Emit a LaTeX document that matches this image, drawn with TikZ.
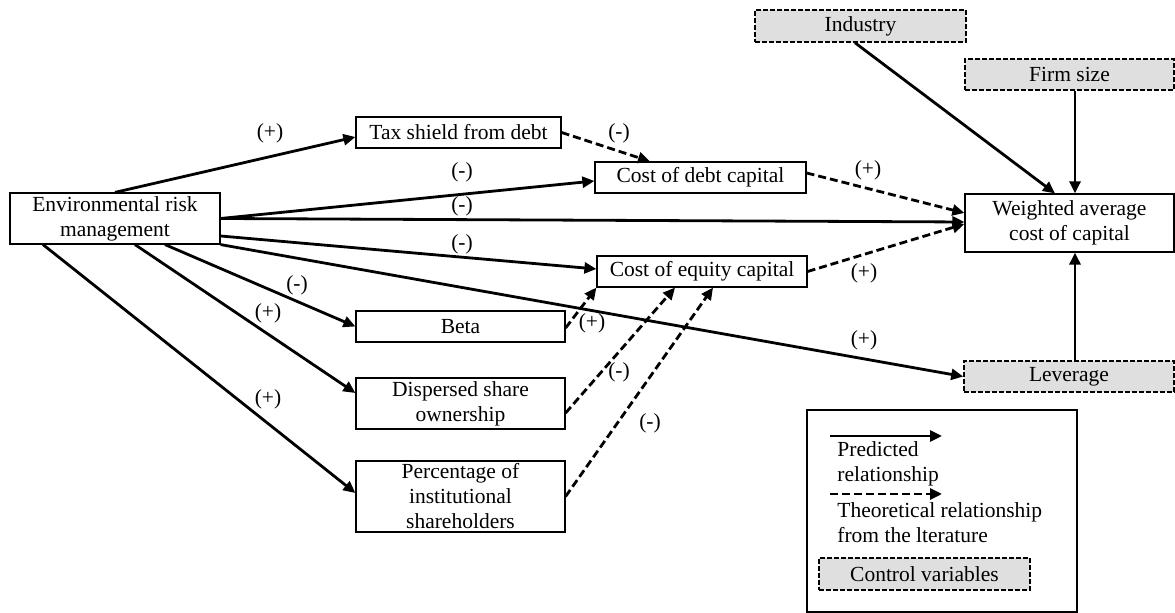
\documentclass[tikz,border=0pt]{standalone}
\usepackage{fontspec}
\newfontfamily\rmf{Liberation Serif}
\usetikzlibrary{arrows.meta}
\begin{document}
\begin{tikzpicture}[x=0.5pt,y=-0.5pt,
  every node/.style={font=\rmf\fontsize{10.75}{12.5}\selectfont, inner sep=0pt},
  box/.style={draw, line width=0.6pt, align=center, minimum height=15.5pt},
  ctl/.style={draw, line width=0.8pt, dash pattern=on 2.3pt off 1.2pt, fill=gray!25, minimum height=15.5pt, align=center},
  pred/.style={-{Triangle[length=6pt,width=5.5pt]}, line width=1.4pt},
  theo/.style={pred, dash pattern=on 4pt off 2pt},
  txt/.style={anchor=base west}
]
\useasboundingbox (0,0) rectangle (1175,613);

% nodes
\node[box, minimum width=105pt, minimum height=25.5pt] (erm) at (115,218.5) {Environmental risk\\management};
\node[box, minimum width=102.5pt] (tax) at (458.5,132.5) {Tax shield from debt};
\node[box, minimum width=105.5pt] (debt) at (700.5,177.5) {Cost of debt capital};
\node[box, minimum width=105pt] (equity) at (702,271.5) {Cost of equity capital};
\node[box, minimum width=104.5pt] (beta) at (460.5,326.5) {Beta};
\node[box, minimum width=104.5pt, minimum height=25.5pt] (disp) at (460.5,403.5) {Dispersed share\\ownership};
\node[box, minimum width=104.5pt, minimum height=35.5pt] (pct) at (460.5,496.5) {Percentage of\\institutional\\shareholders};
\node[ctl, minimum width=105.5pt, minimum height=16pt] (ind) at (860.5,26) {Industry};
\node[ctl, minimum width=104.5pt] (firm) at (1069.5,74.5) {Firm size};
\node[box, minimum width=104.5pt, minimum height=29pt] (wacc) at (1069.5,223) {Weighted average\\cost of capital};
\node[ctl, minimum width=105pt] (lev) at (1069,376.5) {Leverage};

% predicted relationships
\draw[pred] (erm.north) -- ([yshift=-2.25pt]tax.west);
\draw[pred] (erm.east) -- ([yshift=-1.75pt]debt.west);
\draw[pred] (erm.east) -- ([yshift=0.5pt]wacc.west);
\draw[pred] ([yshift=-8.75pt]erm.east) -- ([yshift=1.25pt]equity.west);
\draw[pred] (erm.south east) -- (lev.west);
\draw[pred] ([xshift=25pt]erm.south) -- (beta.west);
\draw[pred] ([xshift=10pt]erm.south) -- ([yshift=5.25pt]disp.west);
\draw[pred] ([xshift=-36pt]erm.south) -- ([yshift=1.75pt]pct.west);
\draw[pred] ([xshift=-2.75pt]ind.south) -- ([xshift=-7.25pt]wacc.north);
\draw[pred] ([xshift=2.75pt]firm.south) -- ([xshift=2.75pt]wacc.north);
\draw[pred] ([xshift=3pt]lev.north) -- ([xshift=2.75pt]wacc.south);

% theoretical relationships
\draw[theo] (tax.east) -- ([xshift=-25.25pt]debt.north);
\draw[theo] ([yshift=-0.75pt]beta.east) -- (equity.south west);
\draw[theo] ([yshift=-4.75pt]disp.east) -- ([xshift=-13.5pt]equity.south);
\draw[theo] (pct.east) -- ([xshift=5.5pt]equity.south);
\draw[theo] ([yshift=2.25pt]debt.east) -- ([yshift=5pt]wacc.west);
\draw[theo] (equity.east) -- ([yshift=-0.5pt]wacc.west);

% labels
\node (l1) at (270,133) {(+)};
\node (l2) at (619,133) {(-)};
\node (l3) at (462,172) {(-)};
\node (l4) at (462,206) {(-)};
\node (l5) at (462,244) {(-)};
\node (l6) at (868,170) {(+)};
\node (l7) at (864,273) {(+)};
\node (l8) at (297,285) {(-)};
\node (l9) at (268,313) {(+)};
\node (l10) at (268,399) {(+)};
\node (l11) at (592,323) {(+)};
\node (l12) at (619,372) {(-)};
\node (l13) at (650,423) {(-)};
\node (l14) at (864,340) {(+)};

% legend
\node[draw, line width=0.6pt, minimum width=135pt, minimum height=101pt] (legend) at (942,511) {};
\coordinate (la1) at (830,436);
\coordinate (la2) at (942,436);
\coordinate (lb1) at (830,494);
\coordinate (lb2) at (942,494);
\draw[pred] (la1) -- (la2);
\draw[theo] (lb1) -- (lb2);
\node[txt] (t1) at (837,457) {Predicted};
\node[txt] (t2) at (837,482) {relationship};
\node[txt] (t3) at (837,518) {Theoretical relationship};
\node[txt] (t4) at (837,543) {from the lterature};
\node[ctl, minimum width=105.5pt, minimum height=16pt] (ctrl) at (924.5,574) {Control variables};
\end{tikzpicture}
\end{document}
